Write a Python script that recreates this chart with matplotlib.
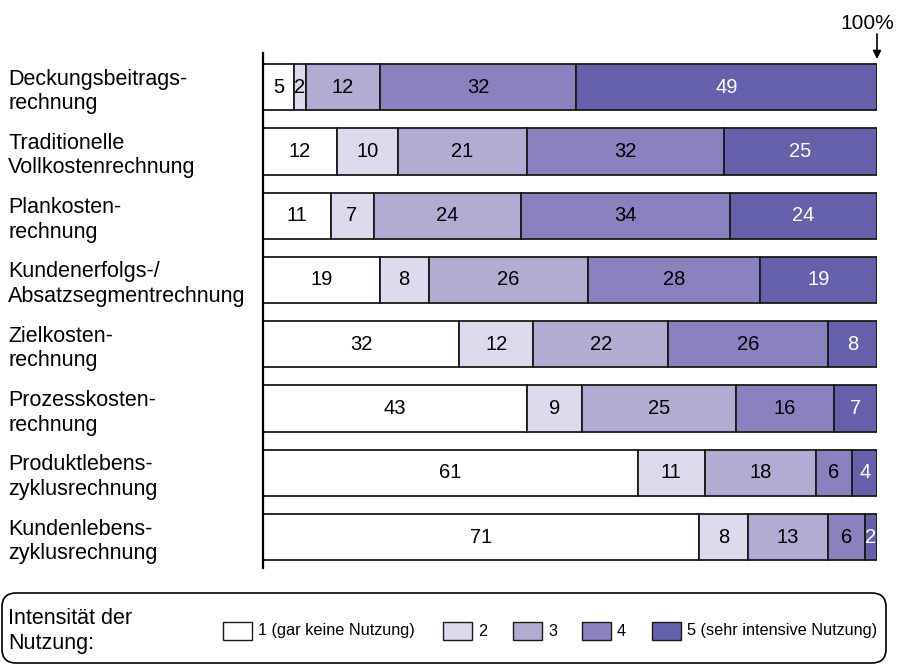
import matplotlib
matplotlib.use("Agg")
import matplotlib.pyplot as plt
from matplotlib.patches import FancyBboxPatch, Rectangle

plt.rcParams['font.family'] = ['Liberation Sans', 'DejaVu Sans']

# Verfahren der Kostenrechnung (von oben nach unten)
categories = [
    "Deckungsbeitrags-\nrechnung",
    "Traditionelle\nVollkostenrechnung",
    "Plankosten-\nrechnung",
    "Kundenerfolgs-/\nAbsatzsegmentrechnung",
    "Zielkosten-\nrechnung",
    "Prozesskosten-\nrechnung",
    "Produktlebens-\nzyklusrechnung",
    "Kundenlebens-\nzyklusrechnung",
]

# Anteile in % je Intensitätsstufe 1..5
level1 = [5, 12, 11, 19, 32, 43, 61, 71]
level2 = [2, 10, 7, 8, 12, 9, 11, 8]
level3 = [12, 21, 24, 26, 22, 25, 18, 13]
level4 = [32, 32, 34, 28, 26, 16, 6, 6]
level5 = [49, 25, 24, 19, 8, 7, 4, 2]

legend_labels = ["1 (gar keine Nutzung)", "2", "3", "4", "5 (sehr intensive Nutzung)"]
colors = ["#ffffff", "#dcdaec", "#b2abd4", "#8a82be", "#6460aa"]
text_colors = ["black", "black", "black", "black", "white"]

W, H = 897, 666
fig = plt.figure(figsize=(W / 100, H / 100), dpi=100)

# bar axes placed in pixel units
left, right, top, bottom = 263, 877, 53, 568
ax = fig.add_axes([left / W, 1 - bottom / H, (right - left) / W, (bottom - top) / H])

series = [level1, level2, level3, level4, level5]
ypos = list(range(len(categories)))
starts = [0] * len(categories)
for vals, col, tcol in zip(series, colors, text_colors):
    ax.barh(ypos, vals, left=starts, height=0.72, color=col,
            edgecolor="#1a1a1a", linewidth=1.3)
    for y, s, v in zip(ypos, starts, vals):
        ax.text(s + v / 2, y, str(v), ha="center", va="center",
                fontsize=14.5, color=tcol)
    starts = [s + v for s, v in zip(starts, vals)]

ax.set_xlim(0, 100)
ax.set_ylim(7.48, -0.53)
ax.set_xticks([])
ax.set_yticks(ypos, categories)
ax.tick_params(axis="y", length=0, pad=(left - 8) * 0.72, labelsize=15.5)
for lbl in ax.get_yticklabels():
    lbl.set_horizontalalignment("left")
    lbl.set_linespacing(1.22)
for side in ["top", "right", "bottom"]:
    ax.spines[side].set_visible(False)
ax.spines["left"].set_linewidth(1.6)

# overlay in pixel coordinates for the 100% marker and the legend box
ov = fig.add_axes([0, 0, 1, 1], facecolor="none")
ov.set_xlim(0, W)
ov.set_ylim(H, 0)
ov.axis("off")

ov.text(840, 29, "100%", fontsize=15, ha="left", va="baseline")
ov.annotate("", xy=(877, 59), xytext=(877, 34),
            arrowprops=dict(arrowstyle="-|>", color="black", lw=1.2,
                            mutation_scale=12, shrinkA=0, shrinkB=0))

box = FancyBboxPatch((2, 593), 884, 70, boxstyle="round,pad=0,rounding_size=14",
                     facecolor="white", edgecolor="black", linewidth=1.2)
ov.add_patch(box)
ov.text(8, 631, "Intensität der\nNutzung:", fontsize=15.5, ha="left", va="center",
        linespacing=1.25)

patch_x = [223, 443, 513, 582, 652]
for px, col, lab in zip(patch_x, colors, legend_labels):
    ov.add_patch(Rectangle((px, 622), 29, 18, facecolor=col, edgecolor="#1a1a1a",
                           linewidth=1.0))
    ov.text(px + 35, 631, lab, fontsize=11.7, ha="left", va="center")

fig.savefig("out.png", dpi=100)
